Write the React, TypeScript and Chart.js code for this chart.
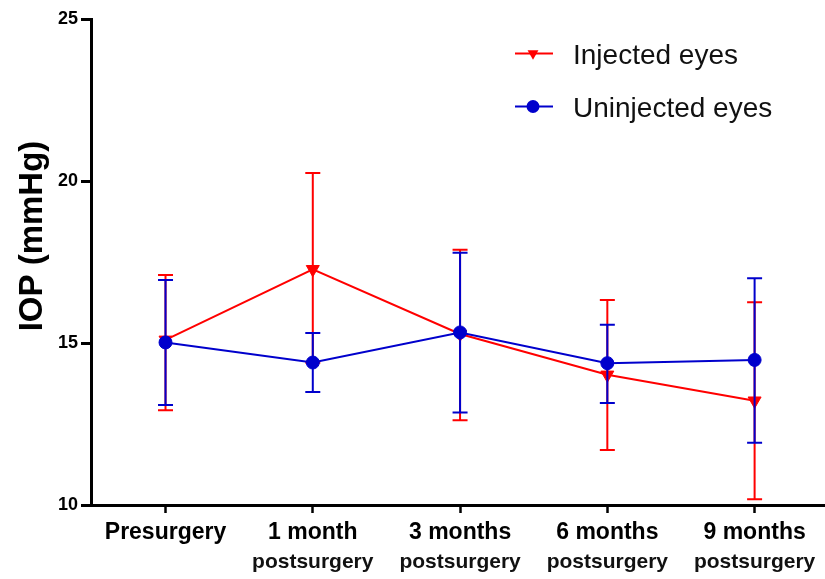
import React, { useEffect, useRef } from 'react';
import { Chart, registerables } from 'chart.js';

Chart.register(...registerables);

// ---- data ----
const categoriesLine1 = ['Presurgery', '1 month', '3 months', '6 months', '9 months'];
const categoriesLine2 = ['', 'postsurgery', 'postsurgery', 'postsurgery', 'postsurgery'];
const seriesNames = ['Injected eyes', 'Uninjected eyes'];

const injectedMean = [15.1, 17.28, 15.28, 14.02, 13.22];
const injectedLow = [12.93, 14.39, 12.62, 11.7, 10.18];
const injectedHigh = [17.1, 20.25, 17.88, 16.33, 16.26];

const uninjectedMean = [15.02, 14.4, 15.33, 14.38, 14.48];
const uninjectedLow = [13.09, 13.49, 12.86, 13.15, 11.92];
const uninjectedHigh = [16.95, 15.31, 17.79, 15.57, 17.0];

const yMin = 10;
const yMax = 25;
const yStep = 5;
const yTitle = 'IOP (mmHg)';

// ---- styles ----
const RED = '#FF0000';
const BLUE = '#0000CC';
const FONT = "'Liberation Sans', Arial, Helvetica, sans-serif";

const errorSets = [
  { low: injectedLow, high: injectedHigh, color: RED },
  { low: uninjectedLow, high: uninjectedHigh, color: BLUE },
];

const errorBarPlugin = {
  id: 'errorBars',
  beforeDatasetDraw(chart: any, args: any) {
    const set = errorSets[args.index];
    if (!set) return;
    const ctx = chart.ctx;
    const ys = chart.scales.y;
    const cap = 7.5;
    ctx.save();
    ctx.strokeStyle = set.color;
    ctx.lineWidth = 2;
    args.meta.data.forEach((pt: any, i: number) => {
      const x = pt.x;
      const yl = ys.getPixelForValue(set.low[i]);
      const yh = ys.getPixelForValue(set.high[i]);
      ctx.beginPath();
      ctx.moveTo(x, yl);
      ctx.lineTo(x, yh);
      ctx.moveTo(x - cap, yl);
      ctx.lineTo(x + cap, yl);
      ctx.moveTo(x - cap, yh);
      ctx.lineTo(x + cap, yh);
      ctx.stroke();
    });
    ctx.restore();
  },
};

const decorPlugin = {
  id: 'decor',
  afterDraw(chart: any) {
    const ctx = chart.ctx;
    ctx.save();
    // y axis title
    ctx.translate(42, 236);
    ctx.rotate(-Math.PI / 2);
    ctx.fillStyle = '#000';
    ctx.font = `bold 33px ${FONT}`;
    ctx.textAlign = 'center';
    ctx.textBaseline = 'alphabetic';
    ctx.fillText(yTitle, 0, 0);
    ctx.restore();

    // legend
    const items = [
      { label: seriesNames[0], color: RED, shape: 'tri', y: 53.5 },
      { label: seriesNames[1], color: BLUE, shape: 'circle', y: 106.5 },
    ];
    ctx.save();
    items.forEach((it) => {
      ctx.strokeStyle = it.color;
      ctx.fillStyle = it.color;
      ctx.lineWidth = 2;
      ctx.beginPath();
      ctx.moveTo(515, it.y);
      ctx.lineTo(553, it.y);
      ctx.stroke();
      const cx = 533;
      ctx.beginPath();
      if (it.shape === 'tri') {
        const r = 6.3;
        ctx.moveTo(cx, it.y + r);
        ctx.lineTo(cx - r * 0.866, it.y - r / 2);
        ctx.lineTo(cx + r * 0.866, it.y - r / 2);
        ctx.closePath();
      } else {
        ctx.arc(cx, it.y, 6.5, 0, Math.PI * 2);
      }
      ctx.fill();
      ctx.fillStyle = '#111';
      ctx.font = `28px ${FONT}`;
      ctx.textAlign = 'left';
      ctx.textBaseline = 'alphabetic';
      ctx.fillText(it.label, 573, it.y + 10);
    });
    ctx.restore();
  },
};

const xMin = -0.506;
const xMax = 4.478;

export default function App() {
  const canvasRef = useRef<HTMLCanvasElement | null>(null);

  useEffect(() => {
    const canvas = canvasRef.current;
    if (!canvas) return;
    const toPoints = (arr: number[]) => arr.map((v, i) => ({ x: i, y: v }));
    const setTicks = (axis: any) => {
      axis.ticks = categoriesLine1.map((_, i) => ({ value: i }));
    };
    const chart = new Chart(canvas, {
      type: 'line',
      data: {
        datasets: [
          {
            label: seriesNames[0],
            data: toPoints(injectedMean),
            borderColor: RED,
            backgroundColor: RED,
            borderWidth: 2,
            pointStyle: 'triangle',
            pointRotation: 180,
            pointRadius: 7.5,
            pointBorderWidth: 1,
            pointBackgroundColor: RED,
            pointBorderColor: RED,
            tension: 0,
            order: 1,
            clip: false,
          } as any,
          {
            label: seriesNames[1],
            data: toPoints(uninjectedMean),
            borderColor: BLUE,
            backgroundColor: BLUE,
            borderWidth: 2,
            pointStyle: 'circle',
            pointRadius: 6.5,
            pointBorderWidth: 1,
            pointBackgroundColor: BLUE,
            pointBorderColor: BLUE,
            tension: 0,
            order: 0,
            clip: false,
          } as any,
        ],
      },
      options: {
        responsive: false,
        animation: false,
        events: [],
        layout: { autoPadding: false, padding: { top: 19.3, left: 0, right: 0, bottom: 0 } },
        plugins: {
          legend: { display: false },
          tooltip: { enabled: false },
          title: { display: false },
        },
        scales: {
          x: {
            type: 'linear',
            position: 'bottom',
            min: xMin,
            max: xMax,
            weight: 0,
            afterBuildTicks: setTicks,
            afterFit: (axis: any) => {
              axis.height = 40;
              axis.paddingLeft = 0;
              axis.paddingRight = 0;
            },
            grid: {
              display: true,
              drawOnChartArea: false,
              drawTicks: true,
              tickLength: 8,
              tickWidth: 2.5,
              tickColor: '#000',
            },
            border: { display: true, color: '#000', width: 3 },
            ticks: {
              autoSkip: false,
              maxRotation: 0,
              minRotation: 0,
              padding: 6,
              color: '#000',
              font: { family: FONT, size: 23, weight: 'bold' },
              callback: (_v: any, i: number) => categoriesLine1[i] ?? '',
            },
          },
          x2: {
            type: 'linear',
            position: 'bottom',
            min: xMin,
            max: xMax,
            weight: 1,
            afterBuildTicks: setTicks,
            afterFit: (axis: any) => {
              axis.height = 34;
              axis.paddingLeft = 0;
              axis.paddingRight = 0;
            },
            grid: { display: false, drawOnChartArea: false, drawTicks: false, tickLength: 0 },
            border: { display: false },
            ticks: {
              autoSkip: false,
              maxRotation: 0,
              minRotation: 0,
              padding: 5,
              color: '#111',
              font: { family: FONT, size: 21, weight: 'bold' },
              callback: (_v: any, i: number) => categoriesLine2[i] ?? '',
            },
          },
          y: {
            type: 'linear',
            min: yMin,
            max: yMax,
            afterFit: (axis: any) => {
              axis.width = 91;
              axis.paddingTop = 0;
              axis.paddingBottom = 0;
            },
            grid: {
              display: true,
              drawOnChartArea: false,
              drawTicks: true,
              tickLength: 10,
              tickWidth: 3,
              tickColor: '#000',
            },
            border: { display: true, color: '#000', width: 3 },
            ticks: {
              stepSize: yStep,
              padding: 3,
              color: '#000',
              font: { family: FONT, size: 18, weight: 'bold' },
            },
          },
        },
      } as any,
      plugins: [errorBarPlugin, decorPlugin],
    });
    return () => chart.destroy();
  }, []);

  return (
    <div style={{ position: 'absolute', left: 0, top: 0, width: 825, height: 579, background: '#fff' }}>
      <canvas ref={canvasRef} width={825} height={579} style={{ display: 'block', width: 825, height: 579 }} />
    </div>
  );
}
